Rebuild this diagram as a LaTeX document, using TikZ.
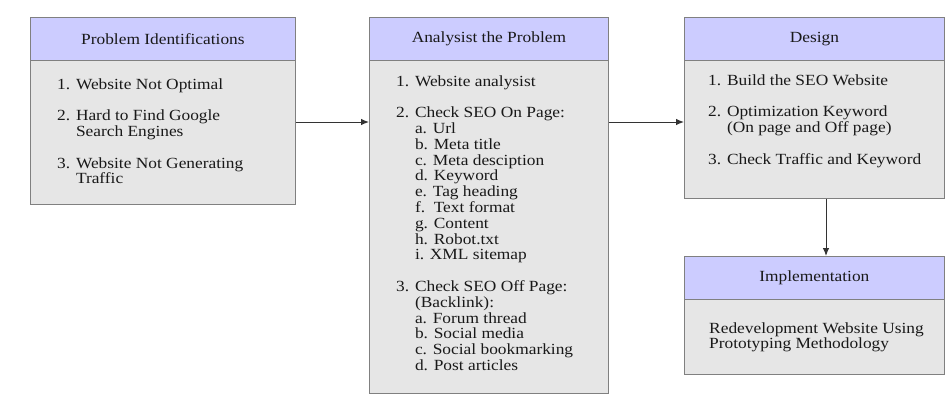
\documentclass[tikz,border=0pt]{standalone}
\usepackage{fontspec}
\usepackage{graphicx}
\setmainfont{Liberation Serif}
\usetikzlibrary{arrows.meta}
\definecolor{hdrfill}{RGB}{204,204,255}
\definecolor{bodyfill}{RGB}{230,230,230}
\definecolor{edgec}{RGB}{128,128,128}
\definecolor{arrowc}{RGB}{51,51,51}
\definecolor{txtc}{RGB}{25,25,25}
\newcommand\widetxt[1]{\scalebox{1.12}[1]{#1}}
\tikzset{
  boxbody/.style={draw=edgec, fill=bodyfill, line width=0.8pt, anchor=north west, inner sep=0pt},
  boxhead/.style={draw=edgec, fill=hdrfill, line width=0.8pt, anchor=north west, inner sep=0pt,
    text=txtc, font=\fontsize{15.5}{15.8}\selectfont},
  boxtext/.style={anchor=base west, inner sep=0pt, text=txtc, font=\fontsize{15.5}{15.8}\selectfont},
  conn/.style={draw=arrowc, line width=1pt, -{Latex[length=8pt,width=6.5pt]}}
}
\begin{document}
\begin{tikzpicture}[x=1pt, y=-1pt]
\useasboundingbox (0,0) rectangle (949,402);
% boxes
\node[boxbody, minimum width=265pt, minimum height=187pt] (b1) at (30,17) {};
\node[boxhead, minimum width=265pt, minimum height=43pt] (h1) at (b1.north west) {\widetxt{Problem Identifications}};
\node[boxbody, minimum width=239pt, minimum height=376pt] (b2) at (369,17) {};
\node[boxhead, minimum width=239pt, minimum height=43pt] (h2) at (b2.north west) {\widetxt{Analysist the Problem}};
\node[boxbody, minimum width=260pt, minimum height=181pt] (b3) at (684,17) {};
\node[boxhead, minimum width=260pt, minimum height=43pt] (h3) at (b3.north west) {\widetxt{Design}};
\node[boxbody, minimum width=260pt, minimum height=118pt] (b4) at (684,256) {};
\node[boxhead, minimum width=260pt, minimum height=43pt] (h4) at (b4.north west) {\widetxt{Implementation}};
% texts
\node[boxtext] (t1) at (57,89) {\widetxt{\begin{tabular}[t]{@{}l@{ }l@{}}
1. & Website Not Optimal\\ \\
2. & Hard to Find Google\\
   & Search Engines\\ \\
3. & Website Not Generating\\
   & Traffic
\end{tabular}}};
\node[boxtext] (t2) at (396,86) {\widetxt{\begin{tabular}[t]{@{}l@{ }l@{}}
1. & Website analysist\\ \\
2. & Check SEO On Page:\\
   & a. Url\\
   & b. Meta title\\
   & c. Meta desciption\\
   & d. Keyword\\
   & e. Tag heading\\
   & f.\ \ Text format\\
   & g. Content\\
   & h. Robot.txt\\
   & i. XML sitemap\\ \\
3. & Check SEO Off Page:\\
   & (Backlink):\\
   & a. Forum thread\\
   & b. Social media\\
   & c. Social bookmarking\\
   & d. Post articles
\end{tabular}}};
\node[boxtext] (t3) at (708,85) {\widetxt{\begin{tabular}[t]{@{}l@{ }l@{}}
1. & Build the SEO Website\\ \\
2. & Optimization Keyword\\
   & (On page and Off page)\\ \\
3. & Check Traffic and Keyword
\end{tabular}}};
\node[boxtext] (t4) at (709,333) {\widetxt{\begin{tabular}[t]{@{}l@{}}
Redevelopment Website Using\\
Prototyping Methodology
\end{tabular}}};
% connectors
\coordinate (ya) at (0,122);
\coordinate (xa) at (826,0);
\draw[conn] (b1.east |- ya) -- (b2.west |- ya);
\draw[conn] (b2.east |- ya) -- (b3.west |- ya);
\draw[conn] (b3.south -| xa) -- (b4.north -| xa);
\end{tikzpicture}
\end{document}
